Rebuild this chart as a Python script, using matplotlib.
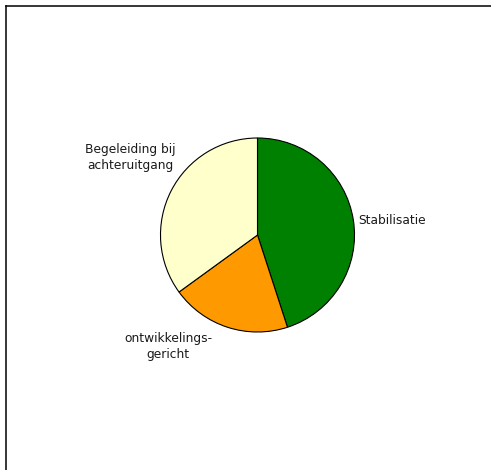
import matplotlib
matplotlib.use("Agg")
import matplotlib.pyplot as plt
from matplotlib.lines import Line2D

# slices, clockwise from 12 o'clock
labels = ["Stabilisatie", "ontwikkelings-\ngericht", "Begeleiding bij\nachteruitgang"]
shares = [45, 20, 35]
colors = ["#008000", "#FF9900", "#FFFFCC"]

# label spots in radius units (Excel "best fit" style), and alignment
label_pos = [(1.04, 0.15), (-0.92, -1.15), (-1.31, 0.80)]
label_ha = ["left", "center", "center"]

W, H, DPI = 491, 470, 100
CX, CY, R = 257.5, 235, 97  # pie centre and radius in pixels

fig = plt.figure(figsize=(W / DPI, H / DPI), dpi=DPI)
ax = fig.add_axes([0, 0, 1, 1])

wedges, texts = ax.pie(shares, labels=labels, colors=colors, startangle=90,
                       counterclock=False,
                       wedgeprops=dict(edgecolor="black", linewidth=0.8),
                       textprops=dict(fontsize=8.8, color="#1a1a1a"))
for t, (x, y), ha in zip(texts, label_pos, label_ha):
    t.set_position((x, y))
    t.set_ha(ha)
    t.set_va("center")
    t.set_multialignment("center")
    t.set_linespacing(1.25)

ax.set_xlim(-CX / R, (W - CX) / R)
ax.set_ylim(-(H - CY) / R, CY / R)
ax.set_axis_off()

# chart-area border (only top and left show)
fig.add_artist(Line2D([5.7 / W, 1], [1 - 5.7 / H] * 2, color="black", lw=1.1))
fig.add_artist(Line2D([5.7 / W] * 2, [0, 1 - 5.7 / H], color="black", lw=1.1))

fig.savefig("out.png", dpi=DPI)
